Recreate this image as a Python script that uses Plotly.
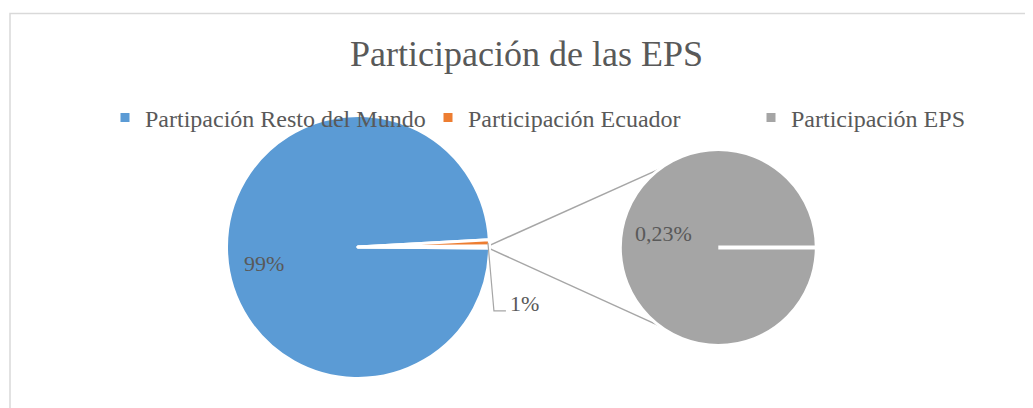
import math
import plotly.graph_objects as go

# ---------------- data ----------------
labels = ["Partipación Resto del Mundo", "Participación Ecuador", "Participación EPS"]
values = [99.0, 0.77, 0.23]
colors = ["#5B9BD5", "#ED7D31", "#A5A5A5"]
second_labels = ["Participación EPS"]
second_values = [0.23]
title_text = "Participación de las EPS"

# ---------------- geometry / style ----------------
W, H = 1100, 408   # figure slightly wider than the 1033 px view so the legend fits on one row
OFF = 8  # page body margin in the browser
MAIN_C = (358.0, 247.0)
MAIN_R = 131.5
SEC_C = (718.3, 247.5)
SEC_R = 98.0
EDGE = 3  # white slice border width
TEXT_COLOR = "#595959"
FONT = "Liberation Serif, Times New Roman, serif"
CONNECT_ANGLE = 122.0  # where connector lines meet the secondary pie (deg)

total = sum(values)
eps_deg = values[2] / total * 360.0
ecu_deg = values[1] / total * 360.0
rotation = 90.0 + eps_deg / 2.0  # centre the split-off slice at 3 o'clock


def px(x):
    return (x - OFF) / W


def py(y):
    return 1 - (y - OFF) / H


def dom(c, r):
    return dict(x=[px(c[0] - r), px(c[0] + r)],
                y=[py(c[1] + r), py(c[1] - r)])


def pie_pt(c, r, ang):
    a = math.radians(ang)
    return c[0] + r * math.sin(a), c[1] - r * math.cos(a)


fig = go.Figure()
fig.add_trace(go.Pie(
    labels=labels, values=values, sort=False, direction="clockwise",
    rotation=rotation, domain=dom(MAIN_C, MAIN_R),
    marker=dict(colors=colors, line=dict(color="white", width=EDGE)),
    textinfo="none", hoverinfo="label+percent", showlegend=True,
))
fig.add_trace(go.Pie(
    labels=second_labels, values=second_values, sort=False,
    direction="clockwise", rotation=90, domain=dom(SEC_C, SEC_R),
    marker=dict(colors=[colors[2]], line=dict(color="white", width=EDGE)),
    textinfo="none", hoverinfo="label", showlegend=True,
))

shapes = []
vis_r = MAIN_R - EDGE / 2
sec_vis = SEC_R - EDGE / 2
# connector lines
p_top = pie_pt(MAIN_C, vis_r, rotation - eps_deg)
p_bot = pie_pt(MAIN_C, vis_r, rotation)
ca = math.radians(CONNECT_ANGLE)
q_top = (SEC_C[0] + sec_vis * math.cos(ca), SEC_C[1] - sec_vis * math.sin(ca))
q_bot = (SEC_C[0] + sec_vis * math.cos(ca), SEC_C[1] + sec_vis * math.sin(ca))
for p, q in ((p_top, q_top), (p_bot, q_bot)):
    shapes.append(dict(type="line", xref="paper", yref="paper", layer="below",
                       x0=px(p[0]), y0=py(p[1]), x1=px(q[0]), y1=py(q[1]),
                       line=dict(color="#A6A6A6", width=1.5)))
# single-slice border radius in secondary pie
shapes.append(dict(type="line", xref="paper", yref="paper", layer="above",
                   x0=px(SEC_C[0]), y0=py(SEC_C[1]),
                   x1=px(SEC_C[0] + SEC_R + 1), y1=py(SEC_C[1]),
                   line=dict(color="white", width=4)))

# data labels
annotations = []
res_pct = values[0] / total * 100
ecu_pct = values[1] / total * 100
eps_pct = second_values[0] / total * 100
lab_font = dict(family=FONT, size=22, color=TEXT_COLOR)
common = dict(xref="paper", yref="paper", showarrow=False, font=lab_font,
              xanchor="center", yanchor="middle")
annotations.append(dict(text=f"{res_pct:.0f}%", x=px(MAIN_C[0] - 94), y=py(MAIN_C[1] + 16), **common))
annotations.append(dict(text=f"{eps_pct:.2f}%".replace(".", ","),
                        x=px(SEC_C[0] - 55), y=py(SEC_C[1] - 14), **common))
# 1% label with leader
e_pt = pie_pt(MAIN_C, vis_r, rotation - eps_deg - ecu_deg / 2)
lab = (e_pt[0] + 37, e_pt[1] + 61)
annotations.append(dict(text=f"{ecu_pct:.0f}%", x=px(lab[0]), y=py(lab[1]), **common))
elbow = (lab[0] - 31, lab[1] + 7)
end = (lab[0] - 19, lab[1] + 7)
shapes.append(dict(type="path", xref="paper", yref="paper", layer="above",
                   path=f"M{px(e_pt[0])},{py(e_pt[1])} L{px(elbow[0])},{py(elbow[1])} L{px(end[0])},{py(end[1])}",
                   line=dict(color="#A6A6A6", width=1.2)))
# chart border
shapes.append(dict(type="rect", xref="paper", yref="paper", layer="below",
                   x0=px(10), y0=py(13.5), x1=1.2, y1=-0.2,
                   line=dict(color="#D9D9D9", width=1.5), fillcolor="rgba(0,0,0,0)"))

fig.update_layout(
    width=W, height=H,
    margin=dict(l=0, r=0, t=0, b=0),
    paper_bgcolor="white", plot_bgcolor="white",
    title=dict(text=title_text, x=px(526.5), xanchor="center",
               y=py(53), yanchor="middle", yref="container",
               font=dict(family=FONT, size=36, color=TEXT_COLOR)),
    legend=dict(orientation="h", x=px(105), xanchor="left",
                y=py(118), yanchor="middle",
                font=dict(family=FONT, size=24, color=TEXT_COLOR),
                bgcolor="rgba(0,0,0,0)", itemwidth=30,
                entrywidth=278, entrywidthmode="pixels"),
    shapes=shapes, annotations=annotations,
)

fig.write_html("out.html")
